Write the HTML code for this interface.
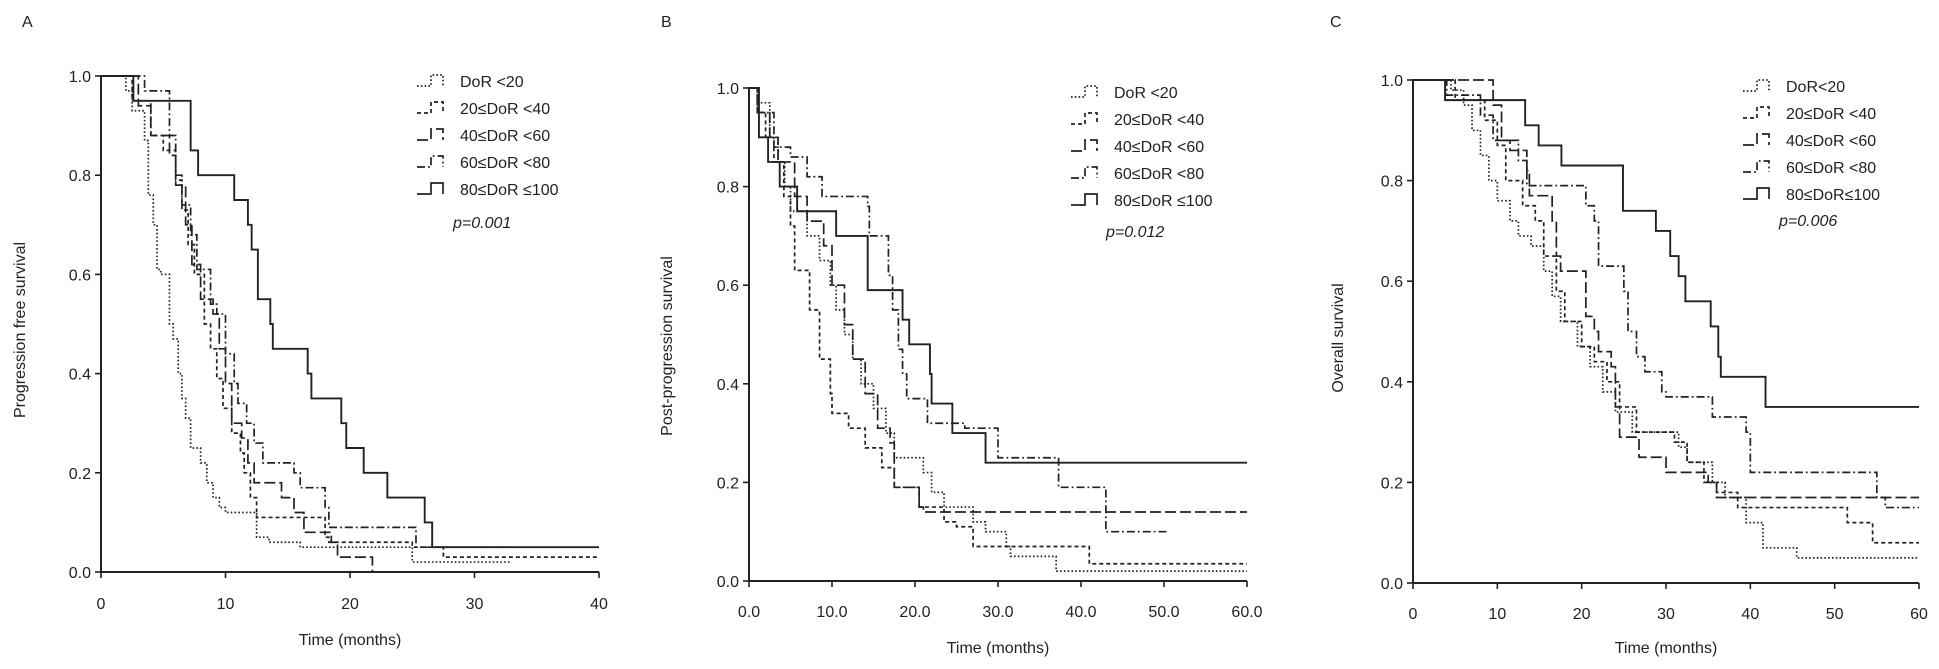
<!DOCTYPE html>
<html><head><meta charset="utf-8">
<style>
html,body{margin:0;padding:0;background:#fff;}
svg{display:block;font-family:"Liberation Sans",Arial,sans-serif;}
</style></head>
<body>
<svg id="chart" width="1939" height="669" viewBox="0 0 1939 669"></svg>
<script>
// ---------- Panel A: Progression free survival ----------
const xTicksA = [0,10,20,30,40];
const xTickLabelsA = ["0","10","20","30","40"];
const A_t1 = [0,2,2.5,3.5,3.8,4.2,4.5,4.8,5.5,5.8,6.2,6.5,6.8,7.2,8,8.5,9,9.5,10,12.5,13.5,16,25,27];
const A_s1 = [1,0.97,0.93,0.87,0.76,0.70,0.61,0.60,0.50,0.47,0.40,0.35,0.31,0.25,0.22,0.18,0.15,0.13,0.12,0.07,0.06,0.05,0.02,0.02];
const A_end1 = 33;
const A_t2 = [0,2.5,4,5,6,6.5,7,7.5,8.3,8.8,9.3,9.8,10.5,11.2,11.5,12,12.5,18,18.3,25,27.5];
const A_s2 = [1,0.95,0.88,0.85,0.79,0.73,0.66,0.60,0.50,0.45,0.39,0.33,0.28,0.24,0.20,0.15,0.11,0.07,0.06,0.05,0.03];
const A_end2 = 40;
const A_t3 = [0,3,4,5.5,6,6.8,7.3,8,9,9.5,10,10.5,11.3,11.8,12.3,14.5,15.5,16.3,18.5,19,21.8];
const A_s3 = [1,0.94,0.88,0.84,0.78,0.70,0.62,0.55,0.52,0.45,0.38,0.30,0.27,0.22,0.18,0.15,0.12,0.08,0.06,0.03,0];
const A_end3 = 21.8;
const A_t4 = [0,3.5,5.5,6,6.5,7.2,7.7,8.8,9.3,10,10.7,11,11.7,12.3,13,15.5,16,18,18.3,25.3];
const A_s4 = [1,0.97,0.88,0.80,0.74,0.68,0.61,0.54,0.52,0.44,0.38,0.34,0.30,0.26,0.22,0.20,0.17,0.13,0.09,0.05];
const A_end4 = 33;
const A_t5 = [0,2.6,7.2,7.8,10.7,11.8,12.1,12.6,13.6,13.8,16.6,16.9,19.3,19.7,21.1,23,26,26.6];
const A_s5 = [1,0.95,0.85,0.80,0.75,0.70,0.65,0.55,0.50,0.45,0.40,0.35,0.30,0.25,0.20,0.15,0.10,0.05];
const A_end5 = 40;

// ---------- Panel B: Post-progression survival ----------
const xTicksB = [0,10,20,30,40,50,60];
const xTickLabelsB = ["0.0","10.0","20.0","30.0","40.0","50.0","60.0"];
const B_t1 = [0,1,2.5,3.5,4.3,5,7,8.5,9.8,10.5,11.5,12.5,13.5,15,16.5,17.5,21,22,23.5,27,28.5,31,31.5,37];
const B_s1 = [1,0.97,0.90,0.85,0.80,0.75,0.70,0.65,0.60,0.55,0.50,0.45,0.40,0.35,0.30,0.25,0.22,0.18,0.15,0.12,0.10,0.07,0.05,0.02];
const B_end1 = 60;
const B_t2 = [0,1,2,3,4.2,5,5.5,7.3,8.5,9.8,10,12,14,16,17.5,20.5,23.5,25,27,41];
const B_s2 = [1,0.95,0.90,0.85,0.78,0.72,0.63,0.55,0.45,0.38,0.34,0.31,0.27,0.23,0.19,0.15,0.12,0.11,0.07,0.035];
const B_end2 = 60;
const B_t3 = [0,1,2.5,3.5,5.5,7,9,10,11.5,12.5,14,15.5,17,17.5,20.5,21];
const B_s3 = [1,0.95,0.90,0.85,0.78,0.73,0.68,0.60,0.52,0.45,0.38,0.31,0.28,0.19,0.15,0.14];
const B_end3 = 60;
const B_t4 = [0,1,3,5,7,8.8,14.3,14.5,16.8,17.3,18,18.5,19,21.5,26,30,37.3,43];
const B_s4 = [1,0.95,0.88,0.86,0.82,0.78,0.76,0.70,0.62,0.55,0.47,0.42,0.37,0.32,0.31,0.25,0.19,0.10];
const B_end4 = 50.5;
const B_t5 = [0,1.2,2.3,3.7,5.8,10.5,14.3,18.5,19.3,21.8,22,24.5,28.5];
const B_s5 = [1,0.90,0.85,0.80,0.75,0.70,0.59,0.53,0.48,0.42,0.36,0.30,0.24];
const B_end5 = 60;

// ---------- Panel C: Overall survival ----------
const xTicksC = [0,10,20,30,40,50,60];
const xTickLabelsC = ["0","10","20","30","40","50","60"];
const C_t1 = [0,4.5,6,7,8,9,10,11.5,12.5,14,15.5,16.5,17.5,19.5,21,22.5,24,26,31.5,32.5,35.5,37,39.5,41.5,45.5];
const C_s1 = [1,0.98,0.95,0.90,0.85,0.80,0.76,0.72,0.69,0.67,0.62,0.57,0.52,0.47,0.43,0.38,0.34,0.30,0.27,0.24,0.20,0.17,0.12,0.07,0.05];
const C_end1 = 60;
const C_t2 = [0,5,8.5,10,11,13,14.5,15.5,17,18,20,21.5,23,24.5,26.5,31,32.5,34.5,36,38.5,51.5,54.5];
const C_s2 = [1,0.96,0.92,0.87,0.80,0.75,0.72,0.65,0.58,0.52,0.47,0.44,0.40,0.35,0.30,0.28,0.24,0.20,0.18,0.15,0.12,0.08];
const C_end2 = 60;
const C_t3 = [0,9.5,10.5,11.5,13.5,13.8,16.5,17,17.5,20.5,21.5,22,23.5,24,24.5,26.8,30,35,36];
const C_s3 = [1,0.95,0.88,0.86,0.82,0.77,0.72,0.65,0.62,0.53,0.50,0.46,0.43,0.35,0.29,0.25,0.22,0.20,0.17];
const C_end3 = 60;
const C_t4 = [0,4,8,9.5,12.5,13.5,20.5,21.5,22,25,25.5,26.5,27.5,29.5,30,35.5,39.5,40,55,56];
const C_s4 = [1,0.97,0.93,0.88,0.84,0.79,0.75,0.72,0.63,0.58,0.50,0.45,0.42,0.38,0.37,0.33,0.30,0.22,0.17,0.15];
const C_end4 = 60;
const C_t5 = [0,3.8,13.3,14.9,17.6,24.9,28.8,30.5,31.5,32.3,35.3,36.2,36.5,41.8];
const C_s5 = [1,0.96,0.91,0.87,0.83,0.74,0.70,0.65,0.61,0.56,0.51,0.45,0.41,0.35];
const C_end5 = 60;

const yTicks = [0,0.2,0.4,0.6,0.8,1.0];
const yTickLabels = ["0.0","0.2","0.4","0.6","0.8","1.0"];
const legendA = ["DoR <20","20\u2264DoR <40","40\u2264DoR <60","60\u2264DoR <80","80\u2264DoR \u2264100"];
const legendC = ["DoR<20","20\u2264DoR <40","40\u2264DoR <60","60\u2264DoR <80","80\u2264DoR\u2264100"];

const NS = "http://www.w3.org/2000/svg";
const svg = document.getElementById("chart");
const dashes = ["1.6 2.2","4 3","11 4","8 3 1.8 3",""];
const seriesNames = ["dor-lt20","dor-20-40","dor-40-60","dor-60-80","dor-80-100"];
const INK = "#222";

function mk(tag, attrs, parent){
  const e = document.createElementNS(NS, tag);
  for (const k in attrs) e.setAttribute(k, attrs[k]);
  (parent||svg).appendChild(e);
  return e;
}
function txt(parent, x, y, s, size, anchor, extra){
  const e = mk("text", Object.assign({x:x, y:y, "font-size":size, fill:INK, "text-anchor":anchor||"start"}, extra||{}), parent);
  e.textContent = s;
  return e;
}

function panel(cfg){
  const g = mk("g", {});
  
  
  const sx = v => cfg.x0 + (v/cfg.xmax)*(cfg.x1-cfg.x0);
  const sy = v => cfg.y0 - v*(cfg.y0-cfg.y1);
  const L = txt(g, cfg.letterX, cfg.letterY, cfg.letter, 16, "start");
  
  
  const ax = mk("path", {d:`M${cfg.x0},${cfg.y1-1} V${cfg.y0} H${cfg.x1}`, fill:"none", stroke:INK, "stroke-width":2}, g);
  
  
  yTicks.forEach((v,i)=>{
    mk("line",{x1:cfg.x0-6,x2:cfg.x0,y1:sy(v),y2:sy(v),stroke:INK,"stroke-width":1.6},g);
    const t = txt(g, cfg.x0-10, sy(v)+6, yTickLabels[i], 16, "end");
    
    
  });
  cfg.xt.forEach((v,i)=>{
    mk("line",{x1:sx(v),x2:sx(v),y1:cfg.y0,y2:cfg.y0+6,stroke:INK,"stroke-width":1.6},g);
    const t = txt(g, sx(v), cfg.xtY, cfg.xtl[i], 16, "middle");
    
    
  });
  const xt = txt(g, cfg.xTitleX, cfg.xTitleY, "Time (months)", 16, "middle");
  
  
  const yt = txt(g, 0, 0, cfg.ytitle, 16, "middle", {transform:`translate(${cfg.yTitleX},${cfg.yTitleY}) rotate(-90)`});
  
  
  cfg.series.forEach((s,k)=>{
    let d = `M${sx(s.t[0])},${sy(s.s[0])}`;
    for (let i=1;i<s.t.length;i++){
      d += ` H${sx(s.t[i])} V${sy(s.s[i])}`;
    }
    d += ` H${sx(s.end)}`;
    const p = mk("path",{d:d,fill:"none",stroke:INK,"stroke-width":k===4?1.9:1.7,"stroke-dasharray":dashes[k]},g);
    
    
  });
  cfg.legend.forEach((lab,k)=>{
    const y = cfg.lgY + k*cfg.lgDy;
    const sym = mk("path",{d:`M${cfg.lgX},${y+5} H${cfg.lgX+14} V${y-6} H${cfg.lgX+26} V${y+5}`,fill:"none",stroke:INK,"stroke-width":1.7,"stroke-dasharray":dashes[k]},g);
    
    
    const t = txt(g, cfg.lgX+43, y+6, lab, 16, "start");
    
    
  });
  const pv = txt(g, cfg.pX, cfg.pY, cfg.p, 16, "start", {"font-style":"italic"});
  
  
}

panel({id:"a",letter:"A",letterX:22,letterY:27,x0:101,x1:599,y0:572,y1:76,xmax:40,xt:xTicksA,xtl:xTickLabelsA,xtY:609,
  xTitleX:350,xTitleY:645,ytitle:"Progression free survival",yTitleX:25,yTitleY:330,
  legend:legendA,lgX:417,lgY:81,lgDy:27,p:"p=0.001",pX:453,pY:228,
  series:[{t:A_t1,s:A_s1,end:A_end1},{t:A_t2,s:A_s2,end:A_end2},{t:A_t3,s:A_s3,end:A_end3},{t:A_t4,s:A_s4,end:A_end4},{t:A_t5,s:A_s5,end:A_end5}]});
panel({id:"b",letter:"B",letterX:661,letterY:27,x0:749,x1:1247,y0:581,y1:88,xmax:60,xt:xTicksB,xtl:xTickLabelsB,xtY:617,
  xTitleX:998,xTitleY:653,ytitle:"Post-progression survival",yTitleX:672,yTitleY:346,
  legend:legendA,lgX:1071,lgY:92,lgDy:27,p:"p=0.012",pX:1106,pY:237,
  series:[{t:B_t1,s:B_s1,end:B_end1},{t:B_t2,s:B_s2,end:B_end2},{t:B_t3,s:B_s3,end:B_end3},{t:B_t4,s:B_s4,end:B_end4},{t:B_t5,s:B_s5,end:B_end5}]});
panel({id:"c",letter:"C",letterX:1330,letterY:27,x0:1413,x1:1919,y0:583,y1:80,xmax:60,xt:xTicksC,xtl:xTickLabelsC,xtY:619,
  xTitleX:1666,xTitleY:653,ytitle:"Overall survival",yTitleX:1343,yTitleY:338,
  legend:legendC,lgX:1743,lgY:86,lgDy:27,p:"p=0.006",pX:1779,pY:226,
  series:[{t:C_t1,s:C_s1,end:C_end1},{t:C_t2,s:C_s2,end:C_end2},{t:C_t3,s:C_s3,end:C_end3},{t:C_t4,s:C_s4,end:C_end4},{t:C_t5,s:C_s5,end:C_end5}]});
</script>
</body></html>
